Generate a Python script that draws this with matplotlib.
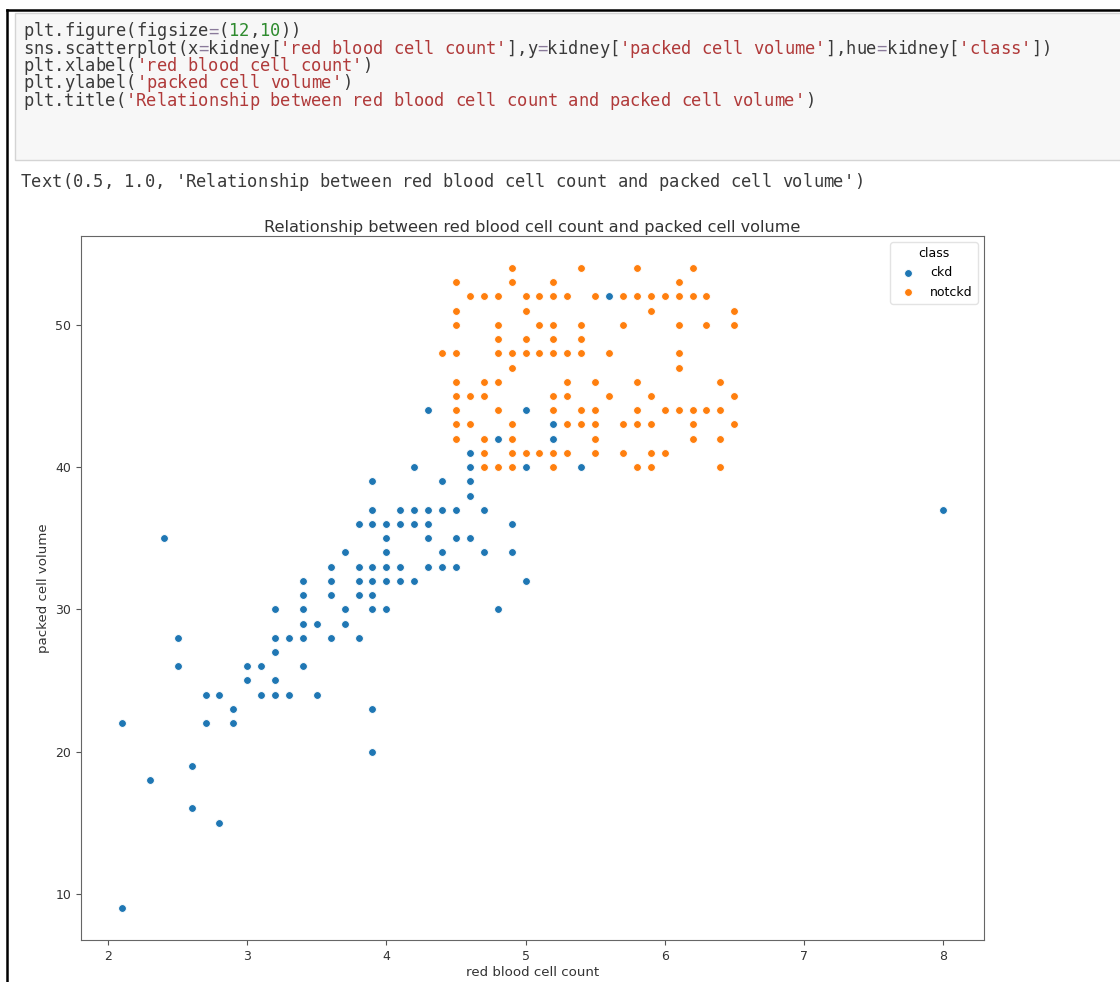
import matplotlib.pyplot as plt
import matplotlib.patches as patches
import pandas as pd

# values, grouped by packed cell volume (y)
ckd_rbc = [2.1, 2.8, 2.6, 2.3, 2.6, 3.9,
           2.1, 2.7, 2.9,
           2.9, 3.9,
           2.7, 2.8, 3.1, 3.2, 3.3, 3.5,
           3.0, 3.2,
           2.5, 3.0, 3.1, 3.4,
           3.2,
           2.5, 3.2, 3.3, 3.4, 3.6, 3.8,
           3.4, 3.5, 3.7,
           3.2, 3.4, 3.7, 3.9, 4.0, 4.8,
           3.4, 3.6, 3.8, 3.9,
           3.4, 3.6, 3.8, 3.9, 4.0, 4.1, 4.2, 5.0,
           3.6, 3.8, 3.9, 4.0, 4.1, 4.3, 4.4, 4.5,
           3.7, 4.0, 4.4, 4.7, 4.9,
           2.4, 4.0, 4.3, 4.5, 4.6,
           3.8, 3.9, 4.0, 4.1, 4.2, 4.3, 4.9,
           3.9, 4.1, 4.2, 4.3, 4.4, 4.5, 4.7, 8.0,
           4.6,
           3.9, 4.4, 4.6,
           4.2, 4.6, 5.0, 5.4,
           4.6,
           4.8, 5.2,
           5.2,
           4.3, 5.0,
           5.6]
ckd_pcv = [9, 15, 16, 18, 19, 20,
           22, 22, 22,
           23, 23,
           24, 24, 24, 24, 24, 24,
           25, 25,
           26, 26, 26, 26,
           27,
           28, 28, 28, 28, 28, 28,
           29, 29, 29,
           30, 30, 30, 30, 30, 30,
           31, 31, 31, 31,
           32, 32, 32, 32, 32, 32, 32, 32,
           33, 33, 33, 33, 33, 33, 33, 33,
           34, 34, 34, 34, 34,
           35, 35, 35, 35, 35,
           36, 36, 36, 36, 36, 36, 36,
           37, 37, 37, 37, 37, 37, 37, 37,
           38,
           39, 39, 39,
           40, 40, 40, 40,
           41,
           42, 42,
           43,
           44, 44,
           52]

notckd_rbc = [4.7, 4.8, 4.9, 5.2, 5.8, 5.9, 6.4,
              4.7, 4.9, 5.0, 5.1, 5.2, 5.3, 5.5, 5.7, 5.9, 6.0,
              4.5, 4.7, 4.9, 5.5, 6.2, 6.4,
              4.5, 4.6, 4.9, 5.3, 5.4, 5.5, 5.7, 5.8, 5.9, 6.2, 6.5,
              4.5, 4.8, 5.2, 5.4, 5.5, 5.8, 6.0, 6.1, 6.2, 6.3, 6.4,
              4.5, 4.6, 4.7, 5.2, 5.3, 5.6, 5.9, 6.5,
              4.5, 4.7, 4.8, 5.3, 5.5, 5.8, 6.4,
              4.9, 6.1,
              4.4, 4.5, 4.8, 4.9, 5.0, 5.1, 5.2, 5.3, 5.4, 5.6, 6.1,
              4.8, 5.0, 5.2, 5.4,
              4.5, 4.8, 5.1, 5.2, 5.4, 5.7, 6.1, 6.3, 6.5,
              4.5, 5.0, 5.9, 6.5,
              4.6, 4.7, 4.8, 5.0, 5.1, 5.2, 5.3, 5.5, 5.7, 5.8, 5.9, 6.0, 6.1, 6.2, 6.3,
              4.5, 4.9, 5.2, 6.1,
              4.9, 5.4, 5.8, 6.2]
notckd_pcv = [40] * 7 + [41] * 10 + [42] * 6 + [43] * 11 + [44] * 11 + [45] * 8 + \
             [46] * 7 + [47] * 2 + [48] * 11 + [49] * 4 + [50] * 9 + [51] * 4 + \
             [52] * 15 + [53] * 4 + [54] * 4

code_lines = [
    "plt.figure(figsize=(12,10))",
    "sns.scatterplot(x=kidney['red blood cell count'],y=kidney['packed cell volume'],hue=kidney['class'])",
    "plt.xlabel('red blood cell count')",
    "plt.ylabel('packed cell volume')",
    "plt.title('Relationship between red blood cell count and packed cell volume')",
]
out_line = "Text(0.5, 1.0, 'Relationship between red blood cell count and packed cell volume')"

kidney = pd.DataFrame({
    'red blood cell count': ckd_rbc + notckd_rbc,
    'packed cell volume': ckd_pcv + notckd_pcv,
    'class': ['ckd'] * len(ckd_rbc) + ['notckd'] * len(notckd_rbc),
})

W, H = 1120, 982
fig = plt.figure(figsize=(W / 100, H / 100), dpi=100)


def px(x, y):
    # screenshot pixel -> figure fraction
    return x / W, 1 - y / H


# notebook frame + code cell
fig.add_artist(plt.Line2D([7 / W, 7 / W], [0, 1 - 10 / H], color='black', lw=1.8))
fig.add_artist(plt.Line2D([7 / W, 1], [1 - 10 / H, 1 - 10 / H], color='black', lw=1.8))
x0, y0 = px(15, 160)
fig.add_artist(patches.Rectangle((x0, y0), 1.2 - x0, (160 - 13) / H,
                                 facecolor='#f7f7f7', edgecolor='#d4d4d4', lw=1.0))

mono = 'DejaVu Sans Mono'
fs_code = 12.3
cw = 0.602 * fs_code * 100 / 72  # advance width of one char in px


def draw_code(line, x, y, highlight=True):
    in_str = False
    for i, ch in enumerate(line):
        color = '#3a3a3a'
        if highlight:
            if ch == "'":
                color = '#b03a3a'
                in_str = not in_str
            elif in_str:
                color = '#b03a3a'
            elif ch.isdigit():
                color = '#2e8b2e'
            elif ch == '=':
                color = '#8a7a9a'
        fig.text(*px(x + i * cw, y), ch, family=mono, fontsize=fs_code,
                 color=color, va='center', ha='left')


for k, line in enumerate(code_lines):
    draw_code(line, 23, 31.5 + k * 17.3)
draw_code(out_line, 21, 182, highlight=False)

# the chart
ax = fig.add_axes([81 / W, 1 - 940 / H, (984 - 81) / W, (940 - 236) / H])
colors = {'ckd': '#1f77b4', 'notckd': '#ff7f0e'}
for cls, grp in kidney.groupby('class'):
    ax.scatter(grp['red blood cell count'], grp['packed cell volume'],
               s=32, color=colors[cls], edgecolor='white', linewidth=0.7, label=cls)

txt = '#333333'
ax.set_xlabel('red blood cell count', fontsize=9.6, color=txt, labelpad=2)
ax.set_ylabel('packed cell volume', fontsize=9.6, color=txt)
ax.set_title('Relationship between red blood cell count and packed cell volume',
             fontsize=11.6, color=txt, pad=3)
ax.set_xticks([2, 3, 4, 5, 6, 7, 8])
ax.set_yticks([10, 20, 30, 40, 50])
ax.tick_params(labelsize=9, colors='#555555', labelcolor=txt)
for sp in ax.spines.values():
    sp.set_color('#666666')

leg = ax.legend(title='class', loc='upper right', fontsize=9, title_fontsize=9)
leg.get_frame().set_edgecolor('#dddddd')

plt.savefig('out.png', dpi=100)
